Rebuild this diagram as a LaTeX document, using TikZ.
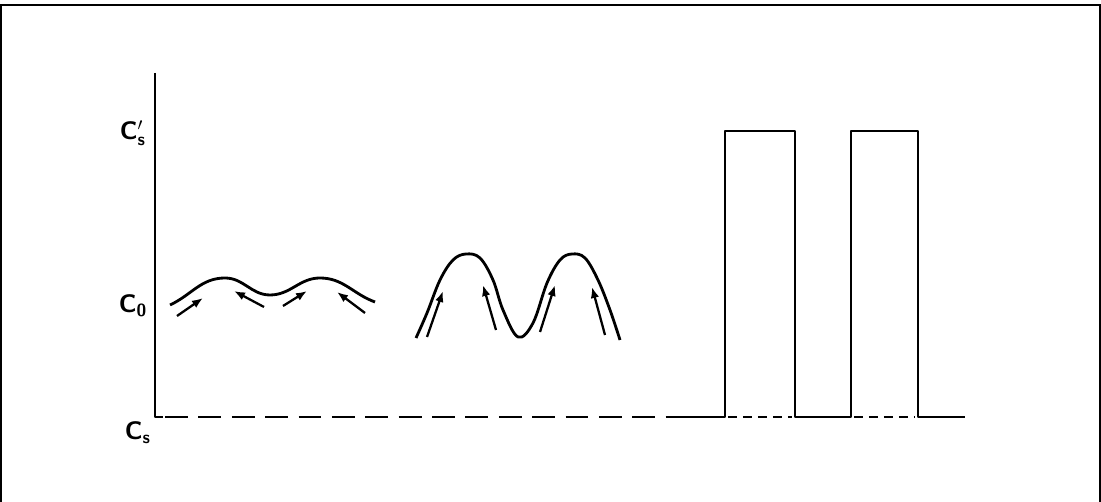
\documentclass[tikz,border=0pt]{standalone}
\usepackage{amsmath}
\usepackage{tikz}
\usetikzlibrary{arrows.meta,calc}

\begin{document}
\begin{tikzpicture}[x=0.02cm,y=0.02cm,
    curve/.style={line width=1.6pt,line join=round},
    flow/.style={line width=1.3pt,-{Latex[length=2.2mm,width=1.7mm]}},
    base/.style={line width=1.6pt,dash pattern=on 13pt off 6pt},
    under/.style={line width=0.8pt,dash pattern=on 5pt off 3.5pt},
    lbl/.style={font=\Large\bfseries\sffamily,inner sep=0pt}]
  \useasboundingbox (0,0) rectangle (1101,502);
  % frame, open at the bottom
  \draw[line width=1.6pt] (1,0) -- (1,497) -- (1100,497) -- (1100,0);
  % axis and levels
  \coordinate (top)    at (155,429);
  \coordinate (orig)   at (155,85);
  \node[lbl] (csp) at (133,369) {C$'_{\textsf{\textbf{s}}}$};
  \node[lbl] (cnull) at (133,196) {C\textsubscript{0}};
  \node[lbl] (cs)  at (138,69) {C\textsubscript{s}};
  \draw[curve] (top) -- (orig) -- ++(8,0);
  \draw[base] ($(orig)+(10,0)$) -- (673,85);
  % small waves
  \draw[curve] (170,197) to[out=25,in=180] (225,224) to[out=0,in=180] (270,207)
    to[out=0,in=180] (320,224) to[out=0,in=160] (375,200);
  \draw[flow] (177,186) -- (203,204);
  \draw[flow] (264,195) -- (234,211);
  \draw[flow] (283,196) -- (307,211);
  \draw[flow] (365,189) -- (337,210);
  % large waves
  \draw[curve] plot[smooth,tension=0.6] coordinates {(416,164) (427,189) (440,222)
    (453,242) (466,248) (480,244) (493,222) (503,192) (518,165) (533,179) (547,219)
    (560,242) (572,248) (585,244) (598,222) (610,192) (620,162)};
  \draw[flow] (427,165) -- (443,211);
  \draw[flow] (496,172) -- (483,217);
  \draw[flow] (540,170) -- (555,217);
  \draw[flow] (605,167) -- (592,215);
  % pulses
  \draw[curve] (673,85) -- (725,85) -- (725,371) -- (795,371) -- (795,85) -- (851,85)
    -- (851,371) -- (918,371) -- (918,85) -- (965,85);
  \draw[under] (728,85) -- (792,85);
  \draw[under] (854,85) -- (915,85);
\end{tikzpicture}
\end{document}
